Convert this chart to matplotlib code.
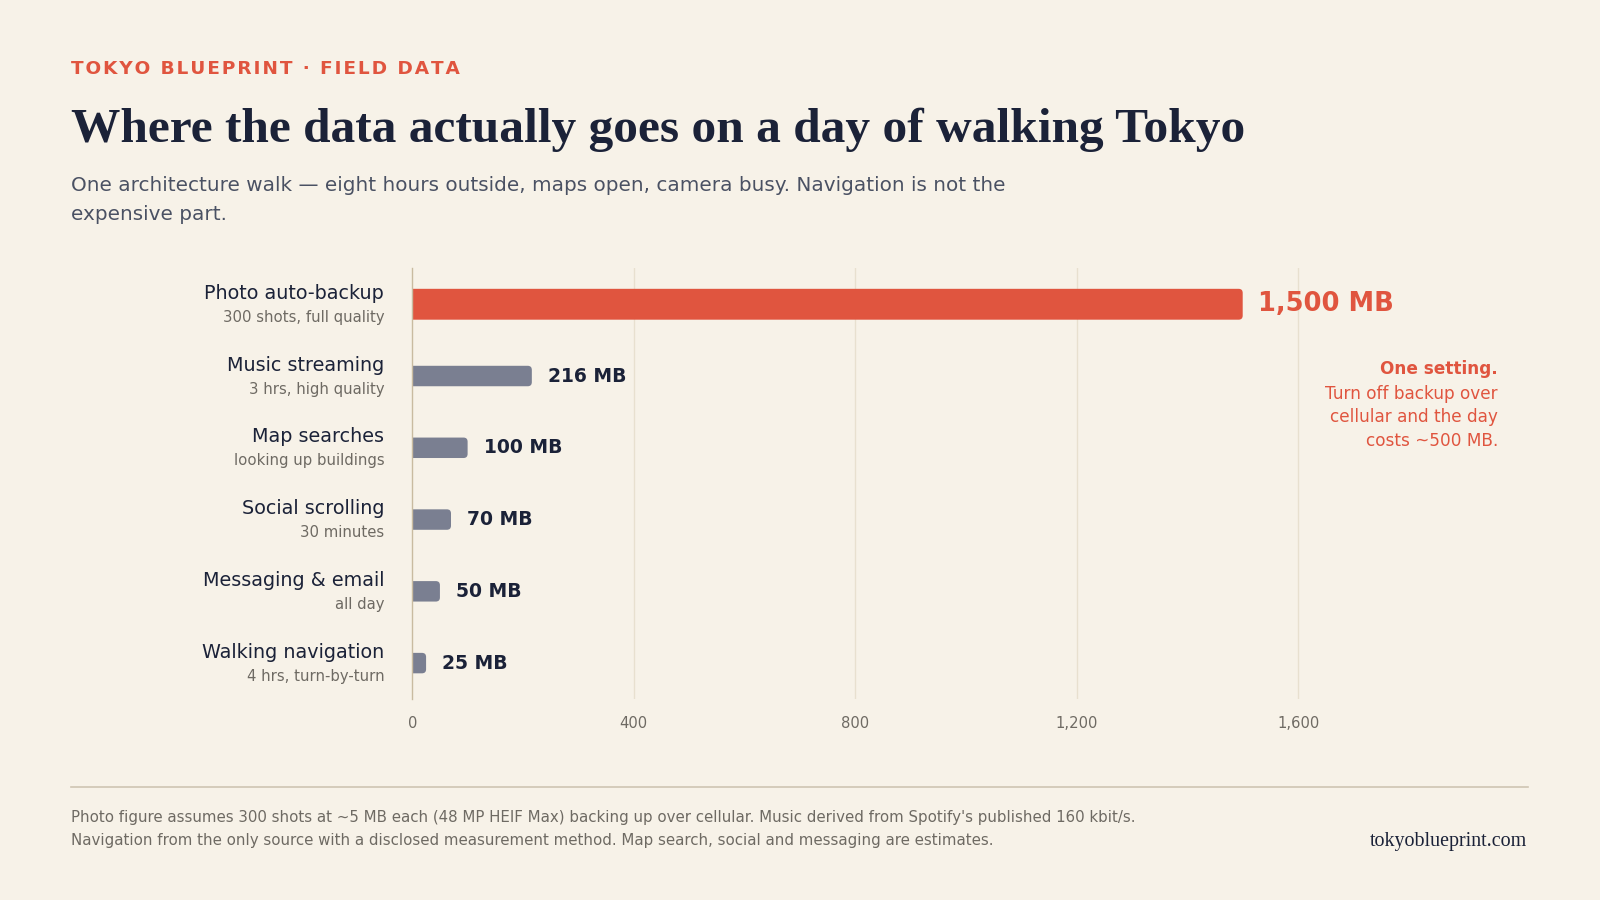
import matplotlib
matplotlib.use('Agg')
import matplotlib.pyplot as plt
from matplotlib.patches import FancyBboxPatch

# Setup
matplotlib.rc('font', family='DejaVu Sans')
BG = '#F7F2E8'
RED = '#E0553F'
GREY_BAR = '#7A7F91'
NAVY = '#1B2238'
MUTED = '#6E6A63'

# data
labels = ['Photo auto-backup', 'Music streaming', 'Map searches',
          'Social scrolling', 'Messaging & email', 'Walking navigation']
sublabels = ['300 shots, full quality', '3 hrs, high quality', 'looking up buildings',
             '30 minutes', 'all day', '4 hrs, turn-by-turn']
values = [1500, 216, 100, 70, 50, 25]
xticks = [0, 400, 800, 1200, 1600]
xticklabels = ['0', '400', '800', '1,200', '1,600']

W, H = 1568.0, 882.0
def fx(x):
    return x / W
def fy(y):
    return 1 - y / H

fig = plt.figure(figsize=(16, 9), dpi=100, facecolor=BG)
ax = fig.add_axes([fx(404), fy(685), fx(1462) - fx(404), (685 - 263) / H])
ax.set_facecolor(BG)

XMAX = 1950
ax.set_xlim(0, XMAX)
ax.set_ylim(5.5, -0.5)

# rounded bar ends: radius ~4 px
rad_x = 7.4
aspect = 0.0569 / rad_x
for i, v in enumerate(values):
    hi = (i == 0)
    h = 0.43 if hi else 0.285
    bar = FancyBboxPatch((-rad_x, i - h / 2), v + rad_x, h,
                         boxstyle=f"round,pad=0,rounding_size={rad_x}",
                         mutation_aspect=aspect, linewidth=0,
                         facecolor=RED if hi else GREY_BAR, zorder=3)
    ax.add_patch(bar)
    if hi:
        ax.text(v + 28, i, f"{v:,} MB", va='center', ha='left', color=RED,
                fontsize=18.5, fontweight='bold')
    else:
        ax.text(v + 29, i, f"{v:,} MB", va='center', ha='left', color=NAVY,
                fontsize=13.5, fontweight='bold')
    # category labels
    ax.annotate(labels[i], xy=(0, i), xycoords=('axes fraction', 'data'),
                xytext=(-28, 11), textcoords='offset pixels', ha='right', va='center',
                fontsize=13.75, color=NAVY)
    ax.annotate(sublabels[i], xy=(0, i), xycoords=('axes fraction', 'data'),
                xytext=(-28, -13), textcoords='offset pixels', ha='right', va='center',
                fontsize=10.75, color=MUTED)

ax.set_xticks(xticks)
ax.set_xticklabels(xticklabels, color=MUTED, fontsize=10.6)
ax.set_yticks([])
ax.tick_params(axis='x', length=0, pad=12)
for x in xticks[1:]:
    ax.axvline(x, color='#E8E0CF', lw=1, zorder=1)
for s in ['top', 'right', 'bottom']:
    ax.spines[s].set_visible(False)
ax.spines['left'].set_color('#C9BBA0')
ax.spines['left'].set_linewidth(1)
ax.spines['left'].set_zorder(4)

# annotation
fig.text(fx(1468), fy(362), "One setting.", ha='right', va='center', color=RED,
         fontsize=12.15, fontweight='bold')
fig.text(fx(1468), fy(377), "Turn off backup over\ncellular and the day\ncosts ~500 MB.",
         ha='right', va='top', color=RED, fontsize=12.15, linespacing=1.4)

# header
kicker = '\u200a'.join("TOKYO BLUEPRINT \u00b7 FIELD DATA")
fig.text(fx(70), fy(68), kicker, ha='left', va='center', color=RED,
         fontsize=13.3, fontweight='bold')
fig.text(fx(70), fy(139), "Where the data actually goes on a day of walking Tokyo",
         ha='left', va='baseline', color=NAVY, fontsize=35.6, fontweight='bold',
         family='Liberation Serif')
fig.text(fx(70), fy(172), "One architecture walk \u2014 eight hours outside, maps open, camera busy. Navigation is not the\nexpensive part.",
         ha='left', va='top', color='#4A5163', fontsize=14.4, linespacing=1.72)

# footer
fig.add_artist(plt.Line2D([fx(70), fx(1497)], [fy(771), fy(771)], color='#CFC5B3', lw=1.2))
fig.text(fx(70), fy(794), "Photo figure assumes 300 shots at ~5 MB each (48 MP HEIF Max) backing up over cellular. Music derived from Spotify's published 160 kbit/s.\nNavigation from the only source with a disclosed measurement method. Map search, social and messaging are estimates.",
         ha='left', va='top', color=MUTED, fontsize=10.77, linespacing=1.65)
fig.text(fx(1497), fy(825), "tokyoblueprint.com", ha='right', va='center', color=NAVY,
         fontsize=14.4, family='Liberation Serif')

fig.savefig('out.png', dpi=100, facecolor=BG)
